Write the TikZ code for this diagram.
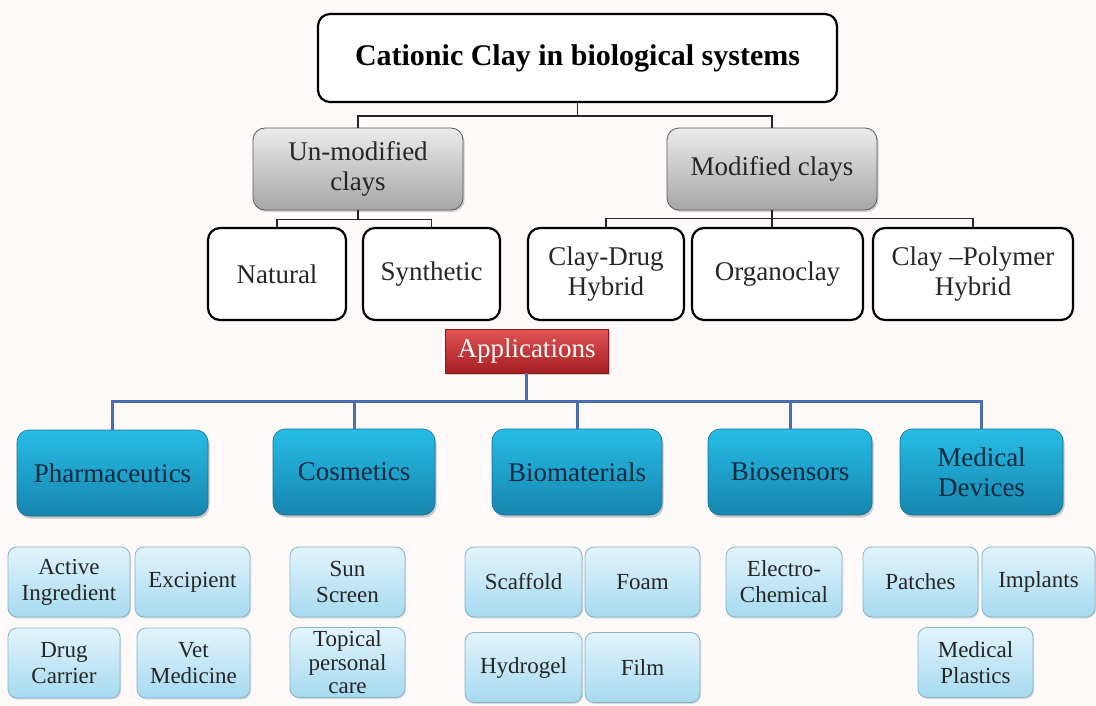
\documentclass[tikz,border=0pt]{standalone}
\usepackage{fontspec}
\setmainfont{Liberation Serif}
\usepackage{xcolor}
\usepackage{tikz}
\usetikzlibrary{shadows}

\definecolor{paperbg}{HTML}{FCF9F8}
\definecolor{greytop}{HTML}{EBEBEB}
\definecolor{greybot}{HTML}{A6A6A6}
\definecolor{redtop}{HTML}{E25454}
\definecolor{redbot}{HTML}{A51E22}
\definecolor{cyantop}{HTML}{27BDE6}
\definecolor{cyanbot}{HTML}{1685AE}
\definecolor{cyanline}{HTML}{1B6F92}
\definecolor{cyantext}{HTML}{0C2A3E}
\definecolor{palytop}{HTML}{E2F4FC}
\definecolor{palybot}{HTML}{A6DAF0}
\definecolor{palyline}{HTML}{86B3C8}
\definecolor{linkblue}{HTML}{4A6EB4}

\tikzset{
    headbox/.style={draw=black, line width=2.2pt, fill=white, rounded corners=12pt,
        align=center, text=black},
    clayclass/.style={draw=black!65, line width=0.8pt, top color=greytop, bottom color=greybot,
        rounded corners=12pt, align=center, text=black!85, minimum width=210, minimum height=82,
        drop shadow={shadow xshift=1.5pt, shadow yshift=-2pt, opacity=0.35},
        font=\fontsize{27}{30}\selectfont},
    claytype/.style={draw=black, line width=2.2pt, fill=white, rounded corners=12pt,
        align=center, text=black!85, minimum height=92, font=\fontsize{27}{30}\selectfont},
    appbox/.style={draw=redbot!80!black, line width=0.6pt, top color=redtop, bottom color=redbot,
        align=center, text=white, minimum width=163, minimum height=44,
        drop shadow={shadow xshift=1.5pt, shadow yshift=-2pt, opacity=0.35},
        font=\fontsize{27}{30}\selectfont},
    field/.style={draw=cyanline, line width=0.6pt, top color=cyantop, bottom color=cyanbot,
        rounded corners=12pt, align=center, text=cyantext, minimum height=86,
        drop shadow={shadow xshift=1.5pt, shadow yshift=-2.5pt, opacity=0.4},
        font=\fontsize{27}{30}\selectfont},
    usebox/.style={draw=palyline, line width=0.8pt, top color=palytop, bottom color=palybot,
        rounded corners=9pt, align=center, text=black!85, minimum height=70, inner sep=1pt,
        drop shadow={shadow xshift=1pt, shadow yshift=-1.5pt, opacity=0.25},
        font=\fontsize{23}{26}\selectfont},
    treeline/.style={draw=black!85, line width=1.6pt},
    appline/.style={draw=linkblue, line width=3pt}
}

\begin{document}
\begin{tikzpicture}[x=1pt, y=-1pt]

    % Canvas
    \useasboundingbox (0,0) rectangle (1096,706);
    \fill[paperbg] (0,0) rectangle (1096,706);

    % Clay tree
    \node[headbox, minimum width=519, minimum height=88, font=\fontsize{30}{34}\selectfont\bfseries]
        (cationic) at (577.5,58) {Cationic Clay in biological systems};

    \node[clayclass] (unmod) at (358,169) {Un-modified\\clays};
    \node[clayclass] (mod)   at (772,169) {Modified clays};

    \node[claytype, minimum width=138] (natural)   at (277,274)   {Natural};
    \node[claytype, minimum width=137] (synthetic) at (431.5,274) {Synthetic};
    \node[claytype, minimum width=156] (claydrug)  at (606,274)   {Clay-Drug\\Hybrid};
    \node[claytype, minimum width=171] (organo)    at (777.5,274) {Organoclay};
    \node[claytype, minimum width=200] (claypoly)  at (973,274)   {Clay –Polymer\\Hybrid};

    \draw[treeline] (cationic.south) -- ++(0,13) -| (unmod.north);
    \draw[treeline] (cationic.south) -- ++(0,13) -| (mod.north);
    \draw[treeline] (unmod.south) -- ++(0,9) -| (natural.north);
    \draw[treeline] (unmod.south) -- ++(0,9) -| (synthetic.north);
    \draw[treeline] (mod.south) -- ++(0,8) -| (claydrug.north);
    \draw[treeline] (mod.south) -- ++(0,8) -| (claypoly.north);
    \draw[treeline] (mod.south) -- (mod.south |- organo.north);

    % Applications
    \node[appbox] (apps) at (526.5,351) {Applications};

    \node[field, minimum width=191] (pharma)   at (112.5,473) {Pharmaceutics};
    \node[field, minimum width=162] (cosmetic) at (354,472)   {Cosmetics};
    \node[field, minimum width=170] (biomat)   at (577,472)   {Biomaterials};
    \node[field, minimum width=164] (biosens)  at (790,472)   {Biosensors};
    \node[field, minimum width=163] (meddev)   at (981.5,472) {Medical\\Devices};

    \foreach \f in {pharma, cosmetic, biomat, biosens, meddev}
        \draw[appline] (apps.south) -- ++(0,28) -| (\f.north);

    % Uses under each field
    \node[usebox, minimum width=122] (active)    at (69,582)    {Active\\Ingredient};
    \node[usebox, minimum width=115] (excipient) at (192.5,582) {Excipient};
    \node[usebox, minimum width=112] (carrier)   at (64,663)    {Drug\\Carrier};
    \node[usebox, minimum width=113] (vetmed)    at (193.5,663) {Vet\\Medicine};

    \node[usebox, minimum width=115] (sunscreen) at (347.5,582) {Sun\\Screen};
    \node[usebox, minimum width=115, font=\fontsize{23}{23.5}\selectfont]
        (topical) at (347.5,662.5) {Topical\\personal\\care};

    \node[usebox, minimum width=117] (scaffold) at (523.5,582)   {Scaffold};
    \node[usebox, minimum width=115] (foam)     at (642.5,582)   {Foam};
    \node[usebox, minimum width=117] (hydrogel) at (523.5,667.5) {Hydrogel};
    \node[usebox, minimum width=115] (film)     at (642.5,667.5) {Film};

    \node[usebox, minimum width=116] (electro) at (784,582) {Electro-\\Chemical};

    \node[usebox, minimum width=115] (patches)  at (920.5,582)  {Patches};
    \node[usebox, minimum width=113] (implants) at (1038.5,582) {Implants};
    \node[usebox, minimum width=115] (plastics) at (975.5,662.5) {Medical\\Plastics};

\end{tikzpicture}
\end{document}
